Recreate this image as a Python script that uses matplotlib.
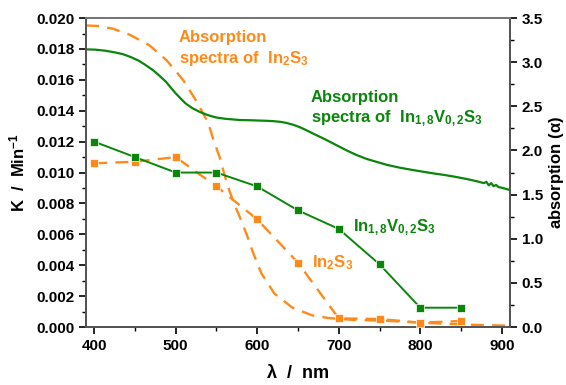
import matplotlib
matplotlib.use("Agg")
import matplotlib.pyplot as plt
from matplotlib.ticker import MultipleLocator, FormatStrFormatter

plt.rcParams['font.family'] = ['Liberation Sans', 'DejaVu Sans']
plt.rcParams['font.weight'] = 'bold'
plt.rcParams['mathtext.fontset'] = 'custom'
plt.rcParams['mathtext.rm'] = 'Liberation Sans:bold'
plt.rcParams['mathtext.it'] = 'Liberation Sans:bold'
plt.rcParams['mathtext.bf'] = 'Liberation Sans:bold'

GREEN = '#0a860a'
ORANGE = '#ff8a1a'

# Kinetic data (left axis)
wl_points = [400, 450, 500, 550, 600, 650, 700, 750, 800, 850]
k_invs = [0.0120, 0.0110, 0.0100, 0.0100, 0.0091, 0.00755, 0.00635, 0.00406, 0.00125, 0.00125]
k_ins = [0.0106, 0.0107, 0.0110, 0.0091, 0.00697, 0.00416, 0.00056, 0.00052, 0.00028, 0.00039]

# Absorption spectrum In1.8V0.2S3 (right axis)
wl_abs_invs = [390, 402, 414, 425, 435, 445, 455, 463, 472, 480, 488, 494, 500, 506, 512,
               520, 529, 539, 549, 560, 570, 579, 590, 600, 610, 619, 628, 636, 644, 652,
               660, 670, 681, 691, 701, 711, 722, 734, 746, 760, 775, 790, 803, 815, 830, 844,
               858, 870, 878, 881, 884, 887, 890, 893, 896, 900, 905, 910]
abs_invs = [3.146, 3.142, 3.130, 3.112, 3.092, 3.058, 3.016, 2.968, 2.911, 2.848, 2.779, 2.712, 2.647, 2.590, 2.534,
            2.482, 2.439, 2.402, 2.375, 2.360, 2.352, 2.345, 2.343, 2.340, 2.337, 2.333, 2.325, 2.312, 2.292, 2.265,
            2.231, 2.185, 2.137, 2.090, 2.042, 1.995, 1.948, 1.905, 1.872, 1.835, 1.805, 1.780, 1.760, 1.742, 1.722, 1.700,
            1.675, 1.650, 1.630, 1.645, 1.605, 1.630, 1.595, 1.610, 1.585, 1.578, 1.565, 1.552]

# Absorption spectrum In2S3 (right axis)
wl_abs_ins = [390, 405, 423, 444, 468, 489, 509, 526, 540, 546, 554, 560, 566, 572, 578, 587, 595,
              605, 621, 643, 668, 689, 720, 760, 800, 850, 880, 910]
abs_ins = [3.417, 3.41, 3.38, 3.31, 3.19, 3.02, 2.80, 2.55, 2.31, 2.13, 1.92, 1.72, 1.54, 1.39, 1.26, 1.05, 0.84,
           0.61, 0.38, 0.22, 0.13, 0.10, 0.08, 0.07, 0.05, 0.03, 0.02, 0.015]

fig = plt.figure(figsize=(5.66, 3.85), dpi=100)
ax = fig.add_axes([0.152, 0.1506, 0.749, 0.8024])
ax2 = ax.twinx()

ax2.plot(wl_abs_ins, abs_ins, color=ORANGE, lw=1.7, dashes=(5.5, 3.5))
ax2.plot(wl_abs_invs, abs_invs, color=GREEN, lw=1.6)

ax.plot(wl_points, k_ins, color=ORANGE, lw=1.7, dashes=(5.5, 3.5), marker='s', ms=5.5,
        markeredgecolor='white', markeredgewidth=0.5, zorder=3)
ax.plot(wl_points, k_invs, color=GREEN, lw=1.4, marker='s', ms=5.5,
        markeredgecolor='white', markeredgewidth=0.5, zorder=4)
ax.set_zorder(ax2.get_zorder() + 1)
ax.patch.set_visible(False)

ax.set_xlim(390, 910)
ax.set_ylim(0, 0.020)
ax2.set_ylim(0, 3.5)

ax.xaxis.set_major_locator(MultipleLocator(100))
ax.xaxis.set_minor_locator(MultipleLocator(50))
ax.yaxis.set_major_locator(MultipleLocator(0.002))
ax.yaxis.set_minor_locator(MultipleLocator(0.001))
ax2.yaxis.set_major_locator(MultipleLocator(0.5))
ax2.yaxis.set_minor_locator(MultipleLocator(0.25))
ax.yaxis.set_major_formatter(FormatStrFormatter('%.3f'))
ax2.yaxis.set_major_formatter(FormatStrFormatter('%.1f'))

spine_col = '#555555'
for a in (ax, ax2):
    for s in a.spines.values():
        s.set_color(spine_col)
        s.set_linewidth(1.4)
ax.spines['top'].set_color('#777777')
ax.tick_params(axis='both', which='major', direction='out', length=5, width=1.2,
               labelsize=11, colors='black')
ax.tick_params(axis='both', which='minor', direction='out', length=3, width=1.0)
ax.tick_params(axis='x', top=False)
ax2.tick_params(axis='y', which='major', direction='out', length=5, width=1.2, labelsize=11)
ax2.tick_params(axis='y', which='minor', direction='out', length=3, width=1.0)
for lab in ax.get_xticklabels() + ax.get_yticklabels() + ax2.get_yticklabels():
    lab.set_fontweight('bold')

ax.set_xlabel(r'$\mathbf{\lambda}$  /  nm', fontsize=13, fontweight='bold', labelpad=8)
ax.set_ylabel(r'K  /  Min$^{\mathbf{-1}}$', fontsize=12, fontweight='bold', labelpad=6)
ax2.set_ylabel(r'absorption ($\mathbf{\alpha}$)', fontsize=12, fontweight='bold', labelpad=3)

ax.text(0.316, 0.922, 'Absorption\nspectra of  In$_{2}$S$_{3}$', transform=fig.transFigure,
        color=ORANGE, fontsize=12, fontweight='bold', va='top', ha='left', linespacing=1.3)
ax.text(0.549, 0.767, 'Absorption\nspectra of  In$_{1,8}$V$_{0,2}$S$_{3}$', transform=fig.transFigure,
        color=GREEN, fontsize=12, fontweight='bold', va='top', ha='left', linespacing=1.3)
ax.text(0.624, 0.408, 'In$_{1,8}$V$_{0,2}$S$_{3}$', transform=fig.transFigure,
        color=GREEN, fontsize=12, fontweight='bold', va='center', ha='left')
ax.text(0.551, 0.318, 'In$_{2}$S$_{3}$', transform=fig.transFigure,
        color=ORANGE, fontsize=12, fontweight='bold', va='center', ha='left')

fig.savefig('out.png', dpi=100)
